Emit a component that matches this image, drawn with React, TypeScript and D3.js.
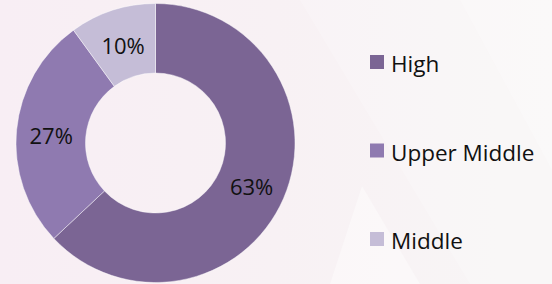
import React, { useEffect, useRef } from "react";
import * as d3 from "d3";

const categories = ["High", "Upper Middle", "Middle"];
const shares = [63, 27, 10];
const colors = ["#7b6594", "#8f7ab0", "#c5bdd7"];

export default function App() {
  const svgRef = useRef<SVGSVGElement | null>(null);

  useEffect(() => {
    if (!svgRef.current) return;
    const svg = d3.select(svgRef.current);
    svg.selectAll("*").remove();

    const width = 552;
    const height = 284;

    // background: pink on the left fading to off-white, with soft diagonal sheets
    const defs = svg.append("defs");
    const bg = defs
      .append("linearGradient")
      .attr("id", "bg")
      .attr("x1", "0%")
      .attr("x2", "100%")
      .attr("y1", "0%")
      .attr("y2", "0%");
    bg.append("stop").attr("offset", "0%").attr("stop-color", "#f8eef4");
    bg.append("stop").attr("offset", "50%").attr("stop-color", "#f8f1f4");
    bg.append("stop").attr("offset", "100%").attr("stop-color", "#f8f6f6");

    svg.append("rect").attr("width", width).attr("height", height).attr("fill", "url(#bg)");

    const sheets = [
      { pts: [[300, 0], [460, 0], [552, 170], [552, 284], [470, 284]], op: 0.2 },
      { pts: [[460, 0], [552, 0], [552, 170]], op: 0.35 },
      { pts: [[362, 186], [420, 284], [330, 284]], op: 0.4 },
    ];
    sheets.forEach((s) => {
      svg
        .append("path")
        .attr("d", d3.line()(s.pts as [number, number][]) + "Z")
        .attr("fill", "#ffffff")
        .attr("opacity", s.op);
    });

    // donut
    const cx = 155.5;
    const cy = 143;
    const outer = 139.5;
    const inner = 70;

    type Row = { name: string; value: number; color: string };
    const data: Row[] = categories.map((c, i) => ({ name: c, value: shares[i], color: colors[i] }));
    const pie = d3
      .pie<Row>()
      .value((d) => d.value)
      .sort(null);
    const arcs = pie(data);
    const arc = d3.arc<d3.PieArcDatum<Row>>().innerRadius(inner).outerRadius(outer);

    const g = svg.append("g").attr("transform", `translate(${cx},${cy})`);

    g.selectAll("path.slice")
      .data(arcs)
      .join("path")
      .attr("class", "slice")
      .attr("d", arc)
      .attr("fill", (d) => d.data.color)
      .attr("stroke", "#ffffff")
      .attr("stroke-opacity", 0.6)
      .attr("stroke-width", 0.75);

    g.selectAll("text.pct")
      .data(arcs)
      .join("text")
      .attr("class", "pct")
      .attr("transform", (d) => {
        const [x, y] = arc.centroid(d);
        return `translate(${x},${y + 3})`;
      })
      .attr("text-anchor", "middle")
      .attr("dy", "0.35em")
      .attr("font-family", "'Open Sans', sans-serif")
      .attr("font-size", 22)
      .attr("fill", "#111111")
      .text((d) => `${d.data.value}%`);

    // legend
    const ly = d3.scalePoint<string>().domain(categories).range([55, 232]);
    const legend = svg
      .append("g")
      .selectAll("g")
      .data(data)
      .join("g")
      .attr("transform", (d) => `translate(370,${ly(d.name)})`);

    legend
      .append("rect")
      .attr("width", 14)
      .attr("height", 14)
      .attr("fill", (d) => d.color);

    legend
      .append("text")
      .attr("x", 21)
      .attr("y", 17)
      .attr("font-family", "'Open Sans', sans-serif")
      .attr("font-size", 22.5)
      .attr("fill", "#111111")
      .text((d) => d.name);
  }, []);

  return (
    <div style={{ position: "fixed", left: 0, top: 0 }}>
      <svg ref={svgRef} width={552} height={284} style={{ display: "block" }} />
    </div>
  );
}
